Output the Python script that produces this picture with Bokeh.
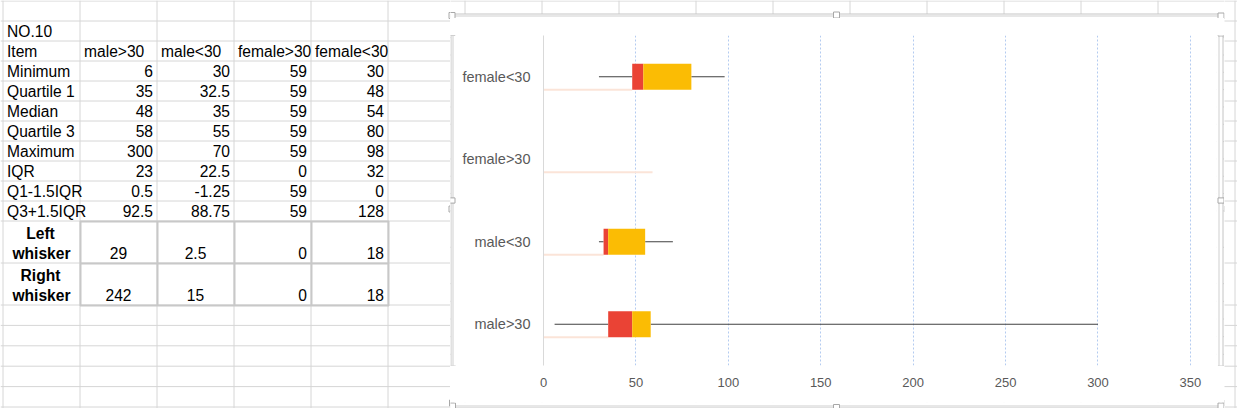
from bokeh.plotting import figure
from bokeh.models import Range1d, FactorRange, FixedTicker, ColumnDataSource
from bokeh.layouts import row, column
from bokeh.transform import dodge
from bokeh.core.properties import value
from bokeh.embed import file_html
from bokeh.resources import INLINE

# ---------------- data ----------------
categories = ["male>30", "male<30", "female>30", "female<30"]
minimum = [6, 30, 59, 30]
quartile1 = [35, 32.5, 59, 48]
median = [48, 35, 59, 54]
quartile3 = [58, 55, 59, 80]
maximum = [300, 70, 59, 98]
iqr = [23, 22.5, 0, 32]
lower_fence = [0.5, -1.25, 59, 0]
upper_fence = [92.5, 88.75, 59, 128]
left_whisker = [29, 2.5, 0, 18]
right_whisker = [242, 15, 0, 18]
x_ticks = [0, 50, 100, 150, 200, 250, 300, 350]

table_title = "NO.10"
item_header = "Item"
stat_labels = ["Minimum", "Quartile 1", "Median", "Quartile 3", "Maximum",
               "IQR", "Q1-1.5IQR", "Q3+1.5IQR"]
stat_values = [minimum, quartile1, median, quartile3, maximum, iqr,
               lower_fence, upper_fence]
whisker_labels = [("Left", "whisker"), ("Right", "whisker")]
whisker_values = [left_whisker, right_whisker]

# ---------------- sheet geometry (screen pixels of the page) ----------------
COL_X0, COL_W, N_COL_LINES = 2.5, 77, 17
col_edges = [COL_X0 + COL_W * k for k in range(N_COL_LINES)]
row_edges = [0.5 + 20 * k for k in range(12)] + [262.5, 304.5, 324.9, 345.3, 365.7, 386.1, 406.5]
GRID = "#d6d6d6"
SHEET_FONT = value("Liberation Sans")
SHEET_SIZE = "15.6px"

BOX_OUT = (450.5, 1222.5, 13.5, 404.5)
BOX_IN = (452.5, 1218.5, 15.5, 402.5)
hx_mid = 836
hy_mid = 208.5
handle_x = [451.5, hx_mid, 1220.5, 451.5, 1220.5, 452, hx_mid, 1220.5]
handle_y = [15, 14.5, 15.5, hy_mid, hy_mid, 402.5, 404, 402.5]


def decorate(p):
    p.segment(x0=col_edges, x1=col_edges, y0=[0] * len(col_edges), y1=[408] * len(col_edges),
              line_color=GRID, line_width=1)
    p.segment(x0=[0] * len(row_edges), x1=[1237] * len(row_edges), y0=row_edges, y1=row_edges,
              line_color=GRID, line_width=1)
    # heavier borders around whisker cells
    hb = [row_edges[11] + 0.5, row_edges[12] + 0.5, row_edges[13] + 0.5]
    p.segment(x0=[col_edges[1]] * 3, x1=[col_edges[5] + 1] * 3, y0=hb, y1=hb,
              line_color="#c8c8c8", line_width=2)
    vb = [e + 0.5 for e in col_edges[1:6]]
    p.segment(x0=vb, x1=vb, y0=[row_edges[11]] * 5, y1=[row_edges[13] + 1] * 5,
              line_color="#c8c8c8", line_width=2)
    # chart container
    p.quad(left=BOX_OUT[0], right=BOX_OUT[1], top=BOX_OUT[2], bottom=BOX_OUT[3],
           fill_color="white", line_color="#c4c4c4", line_width=1)
    p.quad(left=BOX_IN[0], right=BOX_IN[1], top=BOX_IN[2], bottom=BOX_IN[3],
           fill_color="white", line_color="#cfcfcf", line_width=1)
    p.rect(x=handle_x, y=handle_y, width=6, height=6, fill_color="white",
           line_color="#a8a8a8", line_width=1)


def deco_fig(x0, x1, y0, y1):
    p = figure(width=x1 - x0, height=y1 - y0, x_range=Range1d(x0, x1), y_range=Range1d(y1, y0),
               toolbar_location=None, output_backend="svg", x_axis_location=None,
               y_axis_location=None, min_border=0, outline_line_color=None,
               background_fill_color="white", border_fill_color="white")
    p.grid.visible = False
    decorate(p)
    return p


# ---------------- left: spreadsheet table ----------------
left = deco_fig(0, 450, 0, 408)


def col_left(c):
    return col_edges[c] + 4


def col_right(c):
    return col_edges[c + 1] - 4


def col_center(c):
    return (col_edges[c] + col_edges[c + 1]) / 2


def mid_y(r):
    return row_edges[r + 1] - 9.6


lx, ly, lt = [], [], []
rx, ry, rt = [], [], []
cx, cy, ct = [], [], []
# title and header
lx += [col_left(0)]; ly += [mid_y(1)]; lt += [table_title]
lx += [col_left(0)]; ly += [mid_y(2)]; lt += [item_header]
for j, c in enumerate(categories):
    lx.append(col_left(j + 1)); ly.append(mid_y(2)); lt.append(c)
# statistics rows
for i, (lab, vals) in enumerate(zip(stat_labels, stat_values)):
    r = 3 + i
    lx.append(col_left(0)); ly.append(mid_y(r)); lt.append(lab)
    for j, v in enumerate(vals):
        rx.append(col_right(j + 1)); ry.append(mid_y(r)); rt.append(f"{v:g}")
# whisker rows
bx, by, bt = [], [], []
for i, (labs, vals) in enumerate(zip(whisker_labels, whisker_values)):
    r = 11 + i
    bx += [col_center(0) - 1, col_center(0)]
    by += [mid_y(r) - 20, mid_y(r)]
    bt += list(labs)
    for j, v in enumerate(vals):
        if j < 2:
            cx.append(col_center(j + 1)); cy.append(mid_y(r)); ct.append(f"{v:g}")
        else:
            rx.append(col_right(j + 1)); ry.append(mid_y(r)); rt.append(f"{v:g}")

common = dict(text_font=SHEET_FONT, text_font_size=SHEET_SIZE, text_color="black",
              text_baseline="middle")
left.text(x=lx, y=ly, text=lt, text_align="left", **common)
left.text(x=rx, y=ry, text=rt, text_align="right", **common)
left.text(x=cx, y=cy, text=ct, text_align="center", **common)
left.text(x=bx, y=by, text=bt, text_align="center", text_font_style="bold", **common)

# ---------------- chart ----------------
chart = figure(width=760, height=381, y_range=FactorRange(factors=categories),
               x_range=Range1d(0, 356), toolbar_location=None, output_backend="svg",
               min_border_left=87, min_border_right=15, min_border_top=17, min_border_bottom=34,
               outline_line_color=None, background_fill_color="white", border_fill_color="white")

src = ColumnDataSource(dict(
    cat=categories,
    q1=quartile1,
    med=median,
    q3=quartile3,
    lo=[q - w for q, w in zip(quartile1, left_whisker)],
    hi=[q + w for q, w in zip(quartile3, right_whisker)],
))

BAR_H = 0.315
chart.segment(x0=0, x1="q1", y0=dodge("cat", -BAR_H / 2, range=chart.y_range),
              y1=dodge("cat", -BAR_H / 2, range=chart.y_range),
              line_color="#fbe4d8", line_width=2, source=src)
chart.segment(x0="lo", x1="q1", y0="cat", y1="cat", line_color="#404040", line_width=1.2, source=src)
chart.segment(x0="q3", x1="hi", y0="cat", y1="cat", line_color="#404040", line_width=1.2, source=src)
chart.hbar(y="cat", left="q1", right="med", height=BAR_H, fill_color="#EA4335",
           line_color=None, source=src)
chart.hbar(y="cat", left="med", right="q3", height=BAR_H, fill_color="#FBBC04",
           line_color=None, source=src)

ticker = FixedTicker(ticks=x_ticks)
chart.xaxis.ticker = ticker
chart.xgrid.ticker = ticker
chart.xaxis.axis_line_color = None
chart.xaxis.major_tick_line_color = None
chart.xaxis.minor_tick_line_color = None
chart.xaxis.major_tick_out = 0
chart.xaxis.minor_tick_out = 0
chart.xaxis.major_label_text_color = "#595959"
chart.xaxis.major_label_text_font = "Liberation Sans"
chart.xaxis.major_label_text_font_size = "13px"
chart.xaxis.major_label_standoff = 12

chart.yaxis.axis_line_color = "#d9d9d9"
chart.yaxis.major_tick_line_color = None
chart.yaxis.minor_tick_line_color = None
chart.yaxis.major_tick_out = 0
chart.yaxis.minor_tick_out = 0
chart.yaxis.major_label_text_color = "#595959"
chart.yaxis.major_label_text_font = "Liberation Sans"
chart.yaxis.major_label_text_font_size = "14.5px"
chart.yaxis.major_label_standoff = 13

chart.xgrid.grid_line_color = "#b3cbf0"
chart.xgrid.grid_line_dash = "2 2"
chart.xgrid.grid_line_width = 1
chart.ygrid.grid_line_color = None

# ---------------- surrounding pieces ----------------
top = deco_fig(450, 1224, 0, 18)
ledge = deco_fig(450, 456, 18, 399)
redge = deco_fig(1216, 1224, 18, 399)
bottom = deco_fig(450, 1224, 399, 408)
right = deco_fig(1224, 1237, 0, 408)

mid = column(top, row(ledge, chart, redge, spacing=0), bottom, spacing=0)
layout = row(left, mid, right, spacing=0)

open("out.html", "w").write(file_html(layout, INLINE))
